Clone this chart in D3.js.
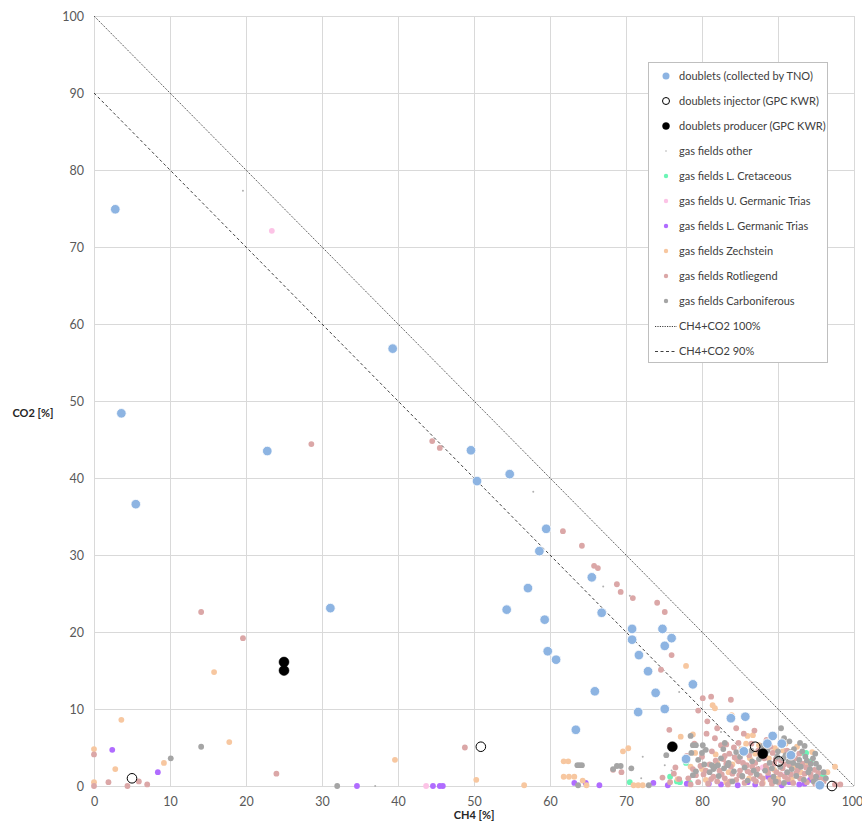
<!DOCTYPE html>
<html>
<head>
<meta charset="utf-8">
<script src="https://cdn.jsdelivr.net/npm/d3@7"></script>
<style>
  body { margin: 0; background: #fff; }
  svg { font-family: Lato, "Open Sans", sans-serif; }
</style>
</head>
<body>
<svg id="chart" width="862" height="824"></svg>
<script>
// --- data (CH4 %, CO2 %) ---
var doublets = [
  [2.8, 74.9], [3.6, 48.4], [5.5, 36.6], [22.8, 43.5], [31.1, 23.1], [39.3, 56.8],
  [49.6, 43.6], [50.4, 39.6], [54.7, 40.5], [59.5, 33.4], [58.6, 30.5], [57.1, 25.7],
  [54.3, 22.9], [59.3, 21.6], [59.7, 17.5], [60.8, 16.4], [65.5, 27.1], [66.8, 22.5],
  [70.8, 20.4], [70.8, 19.0], [71.7, 17.0], [72.9, 14.9], [74.8, 20.4], [76.0, 19.2],
  [75.1, 18.2], [73.9, 12.1], [78.8, 13.2], [75.1, 10.0], [71.6, 9.6], [65.9, 12.3],
  [63.4, 7.3], [83.8, 8.8], [85.7, 9.0], [89.3, 6.5], [88.6, 5.5], [90.5, 5.5],
  [85.5, 4.5], [91.7, 4.0], [95.5, 0.1], [77.9, 3.5]
];
var injector = [[5.0, 1.0], [50.9, 5.1], [87.0, 5.1], [90.1, 3.2], [97.1, 0.0]];
var producer = [[25.0, 16.1], [25.0, 15.0], [76.1, 5.1], [88.0, 4.2]];

var gasOther = [
  [19.6, 77.3], [57.8, 38.2], [67.0, 25.9], [70.5, 24.7], [77.0, 12.2], [72.2, 3.8],
  [72.0, 1.0], [75.1, 2.7], [76.0, 2.0], [37.0, 0.0], [80.0, 5.0], [84.0, 4.0], [82.5, 7.0]
];
var gasLCretaceous = [
  [70.5, 0.5], [75.8, 1.2], [77.1, 0.5], [77.8, 3.4], [78.4, 0.4], [77.9, 3.0],
  [76.7, 0.6], [93.2, 4.3], [93.7, 4.3], [94.3, 3.2], [96.2, 1.7], [95.9, 1.4], [95.5, 0.8]
];
var gasUGermanicTrias = [[23.4, 72.1], [43.7, 0.0], [85.0, 3.5], [91.0, 1.5], [88.0, 2.4]];
var gasLGermanicTrias = [
  [2.4, 4.7], [8.4, 1.8], [34.6, 0.0], [44.6, 0.0], [45.5, 0.0], [45.9, 0.0],
  [63.2, 0.4], [64.7, 0.4], [66.5, 0.1], [73.6, 0.4], [75.5, 0.1], [78.0, 0.3],
  [80.9, 0.3], [82.5, 0.2], [84.7, 0.1], [86.0, 0.5], [87.0, 0.2], [88.7, 1.2],
  [89.3, 0.8], [90.5, 0.1], [91.5, 0.5], [92.8, 0.2], [93.5, 0.3], [94.2, 0.8], [95.1, 1.2]
];
var gasZechstein = [
  [0.0, 4.8], [0.0, 0.5], [2.8, 2.2], [9.2, 3.0], [17.8, 5.7], [3.6, 8.6], [15.8, 14.8],
  [39.6, 3.4], [50.3, 0.8], [56.6, 0.1], [61.8, 3.2], [62.4, 3.2], [61.8, 1.2], [62.5, 1.2],
  [63.2, 1.2], [64.3, 0.7], [64.8, 0.1], [69.6, 4.5], [70.3, 4.9], [71.0, 0.1], [71.6, 0.1],
  [72.2, 0.1], [77.2, 6.4], [78.8, 6.7], [77.9, 15.6], [81.4, 10.5], [81.7, 10.1], [79.1, 4.3],
  [82.0, 3.0], [78.5, 2.5], [80.5, 0.8], [83.9, 9.2], [86.0, 6.5], [86.7, 6.6], [84.0, 2.8],
  [85.2, 4.8], [87.5, 5.3], [88.5, 4.9], [89.6, 4.9], [90.0, 1.0], [91.0, 5.5], [92.5, 5.1],
  [93.8, 3.1], [97.5, 2.5], [86.2, 1.0], [88.0, 0.4], [83.2, 0.5], [76.8, 0.9],
  [80.0, 2.2], [81.8, 4.1], [83.5, 1.8], [84.6, 3.4], [86.3, 3.6], [87.0, 4.2], [88.8, 3.6],
  [89.5, 2.1], [90.7, 4.6], [92.0, 2.4], [93.0, 1.8], [94.5, 4.4], [85.8, 5.5], [91.8, 0.9],
  [96.5, 1.8]
];
var gasRotliegend = [
  [19.6, 19.2], [14.1, 22.6], [28.6, 44.4], [44.5, 44.8], [45.5, 43.9], [61.7, 33.1],
  [64.2, 31.2], [65.8, 28.6], [66.3, 28.3], [68.8, 26.2], [69.3, 25.2], [70.9, 24.4],
  [74.1, 23.8], [75.1, 22.6], [76.0, 17.0], [74.6, 15.1], [75.7, 7.3], [0.0, 4.1],
  [1.9, 0.5], [4.4, 0.0], [5.9, 0.6], [7.0, 0.2], [0.0, 0.0], [24.0, 1.6], [48.8, 5.0],
  [68.3, 2.1], [69.4, 1.8], [80.1, 11.4], [81.2, 11.6], [80.7, 8.4], [81.7, 6.2],
  [82.5, 5.3], [83.2, 5.4], [83.8, 11.2], [84.5, 7.5], [85.5, 6.8], [84.2, 5.0],
  [86.5, 5.5], [88.5, 6.0], [90.5, 5.8], [79.0, 5.5], [80.0, 3.8], [78.0, 3.9],
  [77.0, 0.9], [76.3, 1.6], [75.8, 0.5], [74.8, 1.1], [76.5, 2.4],
  [78.2, 1.0], [78.8, 2.2], [79.5, 0.5], [80.2, 1.5], [80.8, 0.3], [81.0, 2.8],
  [81.5, 1.2], [82.0, 0.6], [82.3, 2.0], [82.8, 3.5], [83.0, 1.0], [83.4, 0.2],
  [83.8, 2.5], [84.0, 1.6], [84.5, 0.8], [84.8, 3.2], [85.0, 2.0], [85.3, 1.2],
  [85.6, 0.4], [85.9, 2.7], [86.2, 4.0], [86.4, 1.7], [86.8, 0.9], [87.0, 3.0],
  [87.3, 2.2], [87.6, 1.3], [87.9, 0.3], [88.2, 3.6], [88.4, 2.6], [88.7, 1.7],
  [89.0, 0.8], [89.3, 4.3], [89.5, 2.9], [89.8, 1.8], [90.1, 0.5], [90.4, 3.3],
  [90.6, 2.3], [90.9, 1.2], [91.2, 4.6], [91.5, 2.7], [91.7, 1.5], [92.0, 0.4],
  [92.3, 3.6], [92.6, 2.1], [92.9, 1.0], [93.2, 2.9], [93.5, 1.6], [93.8, 0.5],
  [94.1, 2.3], [94.5, 1.1], [94.9, 0.3], [95.3, 1.7], [96.0, 0.6], [97.5, 0.2], [98.2, 0.2],
  [78.5, 0.2], [79.2, 1.4], [79.8, 2.6], [80.5, 2.0], [81.2, 0.9], [81.8, 3.3],
  [82.6, 1.5], [83.2, 2.9], [83.7, 0.6], [84.3, 3.7], [84.9, 1.4], [85.4, 3.0],
  [86.0, 1.9], [86.6, 2.5], [87.1, 0.6], [87.7, 3.8], [88.0, 1.0], [88.6, 2.2],
  [89.2, 0.3], [89.7, 3.5], [90.3, 1.5], [90.8, 2.8], [91.3, 0.9], [91.9, 3.3],
  [92.4, 1.7], [92.8, 4.2], [93.3, 0.9], [93.7, 2.4], [94.3, 1.5], [94.8, 2.1],
  [95.6, 0.9], [81.3, 4.5], [83.6, 4.2], [85.6, 4.4], [87.4, 4.6], [89.0, 5.1],
  [84.8, 5.6], [82.0, 7.5], [79.5, 9.8], [80.6, 6.8], [86.9, 7.2], [83.0, 3.9]
];
var gasCarboniferous = [
  [10.1, 3.6], [14.1, 5.1], [32.0, 0.0], [63.6, 2.7], [63.9, 2.7], [64.2, 2.7],
  [63.7, 0.1], [68.3, 2.2], [68.8, 2.6], [69.3, 2.6], [70.7, 2.3], [73.0, 0.1],
  [75.3, 4.0], [78.6, 4.3], [78.8, 1.4], [78.5, 6.5], [78.8, 5.3], [79.2, 5.3],
  [80.1, 5.3], [80.0, 4.3], [81.3, 2.7], [81.7, 2.5], [82.1, 2.7], [82.9, 2.3],
  [83.4, 2.7], [79.5, 3.4], [80.5, 4.7], [81.5, 2.2], [82.2, 1.3], [83.0, 5.6],
  [83.5, 3.0], [84.2, 1.9], [85.0, 3.8], [85.6, 2.4], [86.0, 0.7], [86.6, 3.2],
  [87.2, 1.5], [87.8, 4.4], [88.3, 2.0], [88.9, 3.0], [89.4, 1.2], [89.9, 3.8],
  [90.4, 7.5], [90.3, 2.5], [90.8, 0.4], [91.0, 4.0], [91.4, 3.2], [91.8, 2.2],
  [92.1, 4.8], [92.4, 1.3], [92.8, 3.4], [93.0, 2.5], [93.4, 0.8], [93.6, 3.8],
  [94.0, 1.8], [94.3, 2.9], [94.7, 0.6], [95.0, 1.2], [95.4, 2.4], [95.8, 0.2],
  [96.3, 1.0], [88.0, 5.2], [86.5, 4.6], [84.5, 4.4], [82.8, 4.8],
  [86.8, 2.0], [87.5, 3.5], [88.6, 4.6], [89.2, 2.3], [89.7, 0.6], [90.0, 4.5],
  [90.7, 3.6], [91.2, 1.8], [91.6, 4.4], [92.0, 3.0], [92.6, 2.7], [92.9, 5.6],
  [93.2, 4.5], [93.8, 3.3], [94.2, 2.2], [94.6, 3.6], [95.0, 2.9], [95.3, 0.5],
  [94.9, 4.2], [91.5, 5.8], [90.8, 6.2], [93.5, 5.2], [96.0, 1.8], [85.3, 1.3],
  [84.0, 0.6], [82.5, 3.6], [81.0, 1.8], [80.3, 2.8], [79.2, 1.9]
];

var xTicks = d3.range(0, 101, 10);
var yTicks = d3.range(0, 101, 10);

// --- series styling, in legend order; z says what is painted on top ---
var series = [
  { name: "doublets (collected by TNO)", data: doublets, r: 4.8, lr: 3.5, fill: "#8db4e2", stroke: "#fff", sw: 0.8, z: 1 },
  { name: "doublets injector (GPC KWR)", data: injector, r: 4.8, lr: 3.5, fill: "none", stroke: "#000", sw: 1, z: 2 },
  { name: "doublets producer (GPC KWR)", data: producer, r: 5, lr: 3.5, fill: "#000", stroke: "#000", sw: 0.5, z: 3 },
  { name: "gas fields other", data: gasOther, r: 1, lr: 0.8, fill: "#b0b0b0", stroke: "none", sw: 0, z: 0 },
  { name: "gas fields L. Cretaceous", data: gasLCretaceous, r: 2.9, lr: 2.2, fill: "#6cf5b6", stroke: "none", sw: 0, z: 0 },
  { name: "gas fields U. Germanic Trias", data: gasUGermanicTrias, r: 2.9, lr: 2.2, fill: "#fcc3e6", stroke: "none", sw: 0, z: 0 },
  { name: "gas fields L. Germanic Trias", data: gasLGermanicTrias, r: 2.9, lr: 2.2, fill: "#b06cff", stroke: "none", sw: 0, z: 0 },
  { name: "gas fields Zechstein", data: gasZechstein, r: 2.9, lr: 2.2, fill: "#f7c7a0", stroke: "none", sw: 0, z: 0 },
  { name: "gas fields Rotliegend", data: gasRotliegend, r: 2.9, lr: 2.2, fill: "#dba7a7", stroke: "none", sw: 0, z: 0 },
  { name: "gas fields Carboniferous", data: gasCarboniferous, r: 2.9, lr: 2.2, fill: "#a5a5a5", stroke: "none", sw: 0, z: 0 }
];

var svg = d3.select("#chart");

var x = d3.scaleLinear().domain([0, 100]).range([94, 854]);
var y = d3.scaleLinear().domain([0, 100]).range([786, 16]);

// gridlines
svg.append("g")
    .attr("stroke", "#d9d9d9")
    .attr("stroke-width", 1)
  .selectAll("line.v")
  .data(xTicks)
  .enter().append("line")
    .attr("x1", function(d) { return x(d) + 0.5; })
    .attr("x2", function(d) { return x(d) + 0.5; })
    .attr("y1", y(100))
    .attr("y2", y(0));

svg.append("g")
    .attr("stroke", "#d9d9d9")
    .attr("stroke-width", 1)
  .selectAll("line.h")
  .data(yTicks)
  .enter().append("line")
    .attr("x1", x(0))
    .attr("x2", x(100))
    .attr("y1", function(d) { return y(d) + 0.5; })
    .attr("y2", function(d) { return y(d) + 0.5; });

// axes (labels only, Excel style)
var xAxis = svg.append("g")
    .attr("transform", "translate(0," + y(0) + ")")
    .call(d3.axisBottom(x).tickValues(xTicks).tickSize(0).tickPadding(11));
var yAxis = svg.append("g")
    .attr("transform", "translate(" + x(0) + ",0)")
    .call(d3.axisLeft(y).tickValues(yTicks).tickSize(0).tickPadding(10));

[xAxis, yAxis].forEach(function(a) {
  a.select(".domain").remove();
  a.selectAll("text")
    .attr("fill", "#595959")
    .style("font-size", "12.5px")
    .style("font-family", "Lato, 'Open Sans', sans-serif");
});
// last x label sits against the page edge
xAxis.selectAll(".tick text")
  .filter(function(d) { return d === 100; })
    .attr("dx", -2);

svg.append("text")
    .attr("x", (x(0) + x(100)) / 2)
    .attr("y", 819)
    .attr("text-anchor", "middle")
    .attr("font-weight", "bold")
    .attr("font-size", 11)
    .attr("fill", "#262626")
    .text("CH4 [%]");

svg.append("text")
    .attr("x", 33)
    .attr("y", 417)
    .attr("text-anchor", "middle")
    .attr("font-weight", "bold")
    .attr("font-size", 11)
    .attr("fill", "#262626")
    .text("CO2 [%]");

// reference lines CH4+CO2 = 100 and 90
var refLines = [
  { name: "CH4+CO2 100%", total: 100, dash: "1.2,1.2" },
  { name: "CH4+CO2 90%", total: 90, dash: "3,2.5" }
];

svg.append("g").selectAll("line")
  .data(refLines)
  .enter().append("line")
    .attr("x1", x(0))
    .attr("y1", function(d) { return y(d.total); })
    .attr("x2", function(d) { return x(d.total); })
    .attr("y2", y(0))
    .attr("stroke", "#404040")
    .attr("stroke-width", 1)
    .attr("stroke-dasharray", function(d) { return d.dash; });

// points: gas fields first, doublets painted over them
series.slice().sort(function(a, b) { return a.z - b.z; }).forEach(function(s) {
  svg.append("g")
    .selectAll("circle")
    .data(s.data)
    .enter().append("circle")
      .attr("cx", function(d) { return x(d[0]); })
      .attr("cy", function(d) { return y(d[1]); })
      .attr("r", s.r)
      .attr("fill", s.fill)
      .attr("stroke", s.stroke)
      .attr("stroke-width", s.sw);
});

// legend
var legend = svg.append("g").attr("transform", "translate(648,62)");

legend.append("rect")
    .attr("x", 0.5)
    .attr("y", 0.5)
    .attr("width", 179)
    .attr("height", 300)
    .attr("fill", "#fff")
    .attr("stroke", "#bfbfbf");

var items = legend.selectAll("g.item")
  .data(series.concat(refLines))
  .enter().append("g")
    .attr("transform", function(d, i) { return "translate(0," + (14 + i * 25) + ")"; });

items.each(function(d) {
  var g = d3.select(this);
  if (d.data) {
    g.append("circle")
      .attr("cx", 18)
      .attr("cy", 0)
      .attr("r", d.lr)
      .attr("fill", d.fill === "none" ? "#fff" : d.fill)
      .attr("stroke", d.stroke === "#fff" ? "none" : d.stroke)
      .attr("stroke-width", d.sw);
  } else {
    g.append("line")
      .attr("x1", 7)
      .attr("x2", 29)
      .attr("y1", 0.5)
      .attr("y2", 0.5)
      .attr("stroke", "#404040")
      .attr("stroke-dasharray", d.dash);
  }
  g.append("text")
    .attr("x", 31)
    .attr("y", 0)
    .attr("dy", "0.35em")
    .attr("font-size", 11)
    .attr("fill", "#404040")
    .text(d.name);
});
</script>
</body>
</html>
